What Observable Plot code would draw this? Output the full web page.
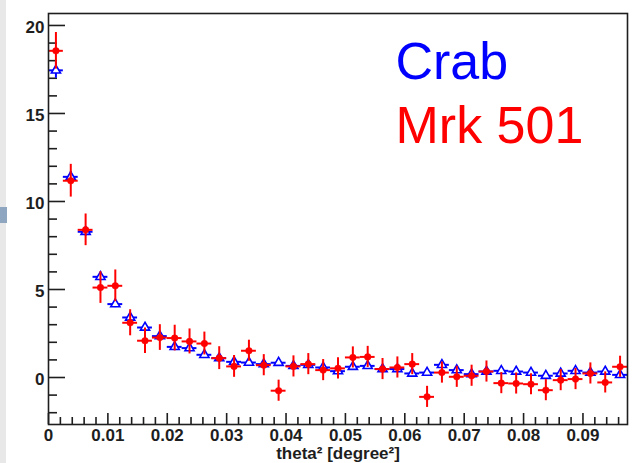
<!DOCTYPE html>
<html>
<head>
<meta charset="utf-8">
<script src="https://cdn.jsdelivr.net/npm/d3@7"></script>
<script src="https://cdn.jsdelivr.net/npm/@observablehq/plot@0.6"></script>
<style>
  html, body { margin: 0; padding: 0; background: #fff; }
  body { width: 633px; height: 463px; position: relative; overflow: hidden; }
  #side { position: absolute; left: 0; top: 0; width: 6px; height: 463px; background: #e8e8e8; }
  #tab { position: absolute; left: 0; top: 207px; width: 7px; height: 16px; background: #8ea6bf; }
  #chart { position: absolute; left: 0; top: 0; }
</style>
</head>
<body>
<div id="side"></div>
<div id="tab"></div>
<div id="chart"></div>
<script>
// theta² bin centres (bin width 0.0025 degree²)
const binWidth = 0.0025;
const theta2 = [
  0.00125, 0.00375, 0.00625, 0.00875, 0.01125, 0.01375, 0.01625, 0.01875, 0.02125, 0.02375,
  0.02625, 0.02875, 0.03125, 0.03375, 0.03625, 0.03875, 0.04125, 0.04375, 0.04625, 0.04875,
  0.05125, 0.05375, 0.05625, 0.05875, 0.06125, 0.06375, 0.06625, 0.06875, 0.07125, 0.07375,
  0.07625, 0.07875, 0.08125, 0.08375, 0.08625, 0.08875, 0.09125, 0.09375, 0.09625
];

// Crab excess counts and errors
const crab = [
  17.45, 11.40, 8.28, 5.72, 4.17, 3.41, 2.84, 2.35, 1.74, 1.67,
  1.29, 1.10, 0.89, 0.85, 0.76, 0.84, 0.66, 0.72, 0.57, 0.36,
  0.61, 0.66, 0.48, 0.48, 0.23, 0.28, 0.72, 0.42, 0.19, 0.34,
  0.38, 0.34, 0.28, 0.10, 0.23, 0.38, 0.28, 0.34, 0.15
];
const crabErr = [
  0.45, 0.30, 0.25, 0.22, 0.20, 0.20, 0.20, 0.20, 0.20, 0.20,
  0.20, 0.20, 0.18, 0.18, 0.18, 0.18, 0.18, 0.18, 0.18, 0.18,
  0.18, 0.18, 0.18, 0.18, 0.18, 0.18, 0.18, 0.18, 0.18, 0.18,
  0.18, 0.18, 0.18, 0.18, 0.18, 0.18, 0.18, 0.18, 0.18
];

// Mrk 501 excess counts and errors
const mrk501 = [
  18.56, 11.18, 8.39, 5.11, 5.21, 3.11, 2.09, 2.27, 2.24, 2.05,
  1.93, 1.10, 0.63, 1.52, 0.70, -0.75, 0.63, 0.76, 0.42, 0.52,
  1.14, 1.17, 0.48, 0.57, 0.76, -1.10, 0.28, 0.04, 0.10, 0.34,
  -0.32, -0.34, -0.38, -0.72, -0.15, -0.09, 0.23, -0.28, 0.61
];
const mrk501Err = [
  1.04, 0.93, 0.90, 0.90, 0.90, 0.74, 0.72, 0.73, 0.73, 0.71,
  0.65, 0.65, 0.62, 0.60, 0.60, 0.60, 0.60, 0.60, 0.60, 0.60,
  0.60, 0.60, 0.60, 0.60, 0.60, 0.60, 0.60, 0.60, 0.60, 0.60,
  0.60, 0.60, 0.60, 0.60, 0.60, 0.60, 0.60, 0.60, 0.60
];

// Axis ticks
const yMajor = [0, 5, 10, 15, 20];
const yMinor = [-2, -1, 1, 2, 3, 4, 6, 7, 8, 9, 11, 12, 13, 14, 16, 17, 18, 19];
const xMajor = [0, 0.01, 0.02, 0.03, 0.04, 0.05, 0.06, 0.07, 0.08, 0.09];
const xMinor = [
  0.002, 0.004, 0.006, 0.008, 0.012, 0.014, 0.016, 0.018, 0.022, 0.024, 0.026, 0.028,
  0.032, 0.034, 0.036, 0.038, 0.042, 0.044, 0.046, 0.048, 0.052, 0.054, 0.056, 0.058,
  0.062, 0.064, 0.066, 0.068, 0.072, 0.074, 0.076, 0.078, 0.082, 0.084, 0.086, 0.088,
  0.092, 0.094, 0.096
];

const crabRows = theta2.map((x, i) => ({x, y: crab[i], e: crabErr[i]}));
const mrkRows = theta2.map((x, i) => ({x, y: mrk501[i], e: mrk501Err[i]}));

const W = 633, H = 463;
const mL = 48, mR = 6, mT = 13, mB = 39;
const plotW = W - mL - mR, plotH = H - mT - mB;
const BLUE = "#0000ff", RED = "#ff0000", INK = "#1e1e1e";
const font = "'Liberation Sans', Arial, Helvetica, sans-serif";

function errorMarks(rows, color) {
  return [
    Plot.ruleY(rows, {y: "y", x1: d => d.x - binWidth / 2, x2: d => d.x + binWidth / 2, stroke: color, strokeWidth: 2}),
    Plot.ruleX(rows, {x: "x", y1: d => d.y - d.e, y2: d => d.y + d.e, stroke: color, strokeWidth: 2})
  ];
}

const chart = Plot.plot({
  width: W, height: H,
  marginLeft: mL, marginRight: mR, marginTop: mT, marginBottom: mB,
  x: {domain: [0, 0.0975]},
  y: {domain: [-2.67, 20.68]},
  style: {background: "transparent", fontFamily: font},
  marks: [
    // inward ticks on the left and bottom axes
    Plot.tickY(yMajor, {stroke: INK, strokeWidth: 1.6, insetRight: plotW - 17}),
    Plot.tickY(yMinor, {stroke: INK, strokeWidth: 1.6, insetRight: plotW - 9}),
    Plot.tickX(xMajor, {stroke: INK, strokeWidth: 1.6, insetTop: plotH - 11}),
    Plot.tickX(xMinor, {stroke: INK, strokeWidth: 1.6, insetTop: plotH - 7}),
    Plot.axisY(yMajor, {tickSize: 0, tickPadding: 4, fontSize: 17, fontWeight: "bold", fill: INK, dy: 2, label: null, tickFormat: d => String(d)}),
    Plot.axisX(xMajor, {tickSize: 0, tickPadding: 4, fontSize: 17, fontWeight: "bold", fill: INK, label: null, tickFormat: d => String(+d.toFixed(2))}),
    Plot.text(["theta² [degree²]"], {frameAnchor: "bottom", lineAnchor: "bottom", dy: 34, fontSize: 17, fontWeight: "bold", fill: INK}),
    // Crab
    ...errorMarks(crabRows, BLUE),
    Plot.dot(crabRows, {x: "x", y: "y", symbol: "triangle", r: 3.4, stroke: BLUE, strokeWidth: 1.6, fill: "white"}),
    // Mrk 501
    ...errorMarks(mrkRows, RED),
    Plot.dot(mrkRows, {x: "x", y: "y", r: 3.3, fill: RED, stroke: RED, strokeWidth: 0.5}),
    // legend
    Plot.text(["Crab"], {frameAnchor: "top-left", textAnchor: "start", lineAnchor: "bottom", dx: 347, dy: 65, fontSize: 52, fill: BLUE}),
    Plot.text(["Mrk 501"], {frameAnchor: "top-left", textAnchor: "start", lineAnchor: "bottom", dx: 347, dy: 129, fontSize: 52, fill: RED}),
    Plot.frame({stroke: INK, strokeWidth: 1.6})
  ]
});
document.getElementById("chart").appendChild(chart);
</script>
</body>
</html>
